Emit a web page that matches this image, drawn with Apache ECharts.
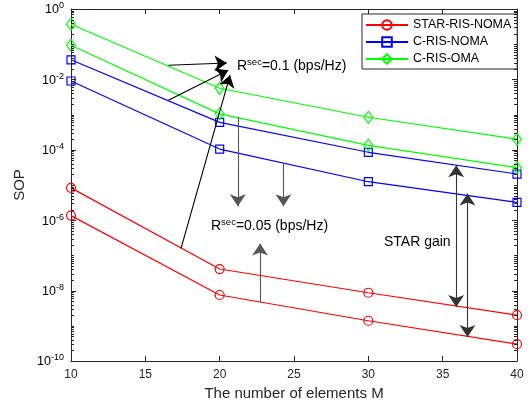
<!DOCTYPE html>
<html><head><meta charset="utf-8">
<script src="https://cdn.jsdelivr.net/npm/echarts@6/dist/echarts.min.js"></script>
<style>html,body{margin:0;padding:0;background:#fff}#c{width:532px;height:411px}</style>
</head><body><div id="c"></div>
<script>
// ---- data ----
const elementsM = [10, 20, 30, 40];
const starNomaR01 = [8.3e-6, 4.1e-8, 8.7e-9, 2.0e-9];
const starNomaR005 = [1.35e-6, 7.5e-9, 1.39e-9, 3.0e-10];
const cRisNomaR01 = [0.036, 6.0e-4, 8.5e-5, 2.05e-5];
const cRisNomaR005 = [0.009, 1.05e-4, 1.24e-5, 3.2e-6];
const cRisOmaR01 = [0.37, 5.6e-3, 8.4e-4, 2.0e-4];
const cRisOmaR005 = [0.093, 1.05e-3, 1.34e-4, 3.1e-5];
const xTickLabels = [10, 15, 20, 25, 30, 35, 40];
const yDecadeExponents = [-10, -9, -8, -7, -6, -5, -4, -3, -2, -1, 0];
const minorMultipliers = [2, 3, 4, 5, 6, 7, 8, 9];

// annotation arrows in data coordinates [M, log10(SOP)]
const arrowList = [
  {from: [16.55, -1.60], to: [20.48, -1.534], color: '#000', both: false},
  {from: [16.55, -2.59], to: [20.57, -1.74], color: '#000', both: false},
  {from: [17.40, -6.80], to: [20.70, -1.88], color: '#000', both: false},
  {from: [21.22, -3.07], to: [21.22, -5.605], color: '#555', both: false},
  {from: [24.29, -4.375], to: [24.29, -5.605], color: '#555', both: false},
  {from: [22.72, -8.324], to: [22.72, -6.665], color: '#555', both: false},
  {from: [35.91, -8.466], to: [35.91, -4.44], color: '#333', both: true},
  {from: [36.67, -9.318], to: [36.67, -5.244], color: '#333', both: true}
];

const FONT = '"Liberation Sans", Arial, sans-serif';
const TXT = '#262626';
const chart = echarts.init(document.getElementById('c'), null, {renderer: 'canvas'});

function pairs(ys) { return elementsM.map((x, i) => [x, ys[i]]); }

function mkSeries(name, ys, color, symbol, size) {
  return {
    name: name, type: 'line', data: pairs(ys),
    symbol: symbol, symbolSize: size, showSymbol: true,
    lineStyle: {color: color, width: 1.2},
    itemStyle: {color: 'rgba(255,255,255,0)', borderColor: color, borderWidth: 1.2},
    emphasis: {disabled: true},
    clip: false, animation: false, z: 3
  };
}

const mlData = arrowList.map(a => [
  {coord: [a.from[0], Math.pow(10, a.from[1])], symbol: a.both ? 'arrow' : 'none', symbolSize: 12,
   lineStyle: {color: a.color, width: 1.1, type: 'solid'}, itemStyle: {color: '#000'}},
  {coord: [a.to[0], Math.pow(10, a.to[1])], symbol: 'arrow', symbolSize: 12, itemStyle: {color: '#000'}}
]);

const series = [
  mkSeries('STAR-RIS-NOMA', starNomaR01, '#ff0000', 'circle', 9),
  mkSeries('STAR-RIS-NOMA', starNomaR005, '#ff0000', 'circle', 9),
  mkSeries('C-RIS-NOMA', cRisNomaR01, '#0000ff', 'rect', 8),
  mkSeries('C-RIS-NOMA', cRisNomaR005, '#0000ff', 'rect', 8),
  mkSeries('C-RIS-OMA', cRisOmaR01, '#00ff00', 'diamond', [9, 12]),
  mkSeries('C-RIS-OMA', cRisOmaR005, '#00ff00', 'diamond', [9, 12])
];
series[0].markLine = {silent: true, animation: false, label: {show: false}, symbol: ['none', 'arrow'], data: mlData};

chart.setOption({
  animation: false,
  backgroundColor: '#fff',
  grid: {left: 71, right: 15, top: 9, bottom: 50},
  legend: {
    orient: 'vertical', left: 362, top: 14,
    padding: [5, 6, 4, 3], itemGap: 5, itemWidth: 42, itemHeight: 12,
    backgroundColor: '#fff', borderColor: TXT, borderWidth: 1,
    textStyle: {fontSize: 12.4, fontFamily: FONT, color: '#000'},
    data: ['STAR-RIS-NOMA', 'C-RIS-NOMA', 'C-RIS-OMA']
  },
  xAxis: [{
    type: 'value', min: 10, max: 40, interval: 5, position: 'bottom',
    name: 'The number of elements M', nameLocation: 'middle', nameGap: 24,
    nameTextStyle: {fontSize: 15, fontFamily: FONT, color: TXT},
    axisLine: {show: true, lineStyle: {color: TXT, width: 1}},
    axisTick: {show: true, inside: true, length: 5, lineStyle: {color: TXT}},
    axisLabel: {fontSize: 12, fontFamily: FONT, color: TXT, margin: 8},
    splitLine: {show: false}
  }, {
    type: 'value', min: 10, max: 40, interval: 5, position: 'top',
    axisLine: {show: true, lineStyle: {color: TXT, width: 1}},
    axisTick: {show: true, inside: true, length: 5, lineStyle: {color: TXT}},
    axisLabel: {show: false}, splitLine: {show: false}
  }],
  yAxis: [{
    type: 'log', logBase: 10, min: 1e-10, max: 1, position: 'left',
    name: 'SOP', nameLocation: 'middle', nameGap: 44,
    nameTextStyle: {fontSize: 15, fontFamily: FONT, color: TXT},
    axisLine: {show: true, lineStyle: {color: TXT, width: 1}},
    axisTick: {show: false}, axisLabel: {show: false},
    splitLine: {show: false}
  }, {
    type: 'log', logBase: 10, min: 1e-10, max: 1, position: 'right',
    axisLine: {show: true, lineStyle: {color: TXT, width: 1}},
    axisTick: {show: false}, axisLabel: {show: false}, splitLine: {show: false}
  }],
  series: series
});

// log ticks and decade labels placed with the axis scale
const gfx = [];
const xL = chart.convertToPixel({xAxisIndex: 0}, 10);
const xR = chart.convertToPixel({xAxisIndex: 0}, 40);
function tick(y, len) {
  gfx.push({type: 'line', shape: {x1: xL, y1: y, x2: xL + len, y2: y}, style: {stroke: TXT, lineWidth: 1}, silent: true, z: 5});
  gfx.push({type: 'line', shape: {x1: xR, y1: y, x2: xR - len, y2: y}, style: {stroke: TXT, lineWidth: 1}, silent: true, z: 5});
}
const labRich = {
  b: {fontSize: 12.5, fontFamily: FONT, color: TXT},
  s: {fontSize: 9, fontFamily: FONT, color: TXT, verticalAlign: 'bottom', padding: [0, 0, 8, 0]}
};
yDecadeExponents.forEach(d => {
  if (d < 0) {
    minorMultipliers.forEach(k => {
      const y = Math.round(chart.convertToPixel({yAxisIndex: 0}, k * Math.pow(10, d))) + 0.5;
      tick(y, 3);
    });
  }
  const yc = chart.convertToPixel({yAxisIndex: 0}, Math.pow(10, d));
  tick(Math.round(yc) + 0.5, d % 2 === 0 ? 5 : 3);
  if (d % 2 === 0) {
    gfx.push({type: 'text', silent: true, z: 5,
      style: {text: '{b|10}{s|' + d + '}', rich: labRich, x: xL - 7, y: yc + 1, align: 'right', verticalAlign: 'middle'}});
  }
});

// text annotations
const annRich = {
  r: {fontSize: 14, fontFamily: FONT, color: '#000'},
  s: {fontSize: 9.5, fontFamily: FONT, color: '#000', verticalAlign: 'bottom', padding: [0, 0, 9, 0]}
};
gfx.push({type: 'text', left: 237, top: 57, silent: true, z: 10,
  style: {text: '{r|R}{s|sec}{r|=0.1 (bps/Hz)}', rich: annRich}});
gfx.push({type: 'text', left: 211, top: 217, silent: true, z: 10,
  style: {text: '{r|R}{s|sec}{r|=0.05 (bps/Hz)}', rich: annRich}});
gfx.push({type: 'text', left: 384, top: 235, silent: true, z: 10,
  style: {text: 'STAR gain', font: '14px ' + FONT, fill: '#000'}});

chart.setOption({graphic: gfx});
</script>
</body></html>
